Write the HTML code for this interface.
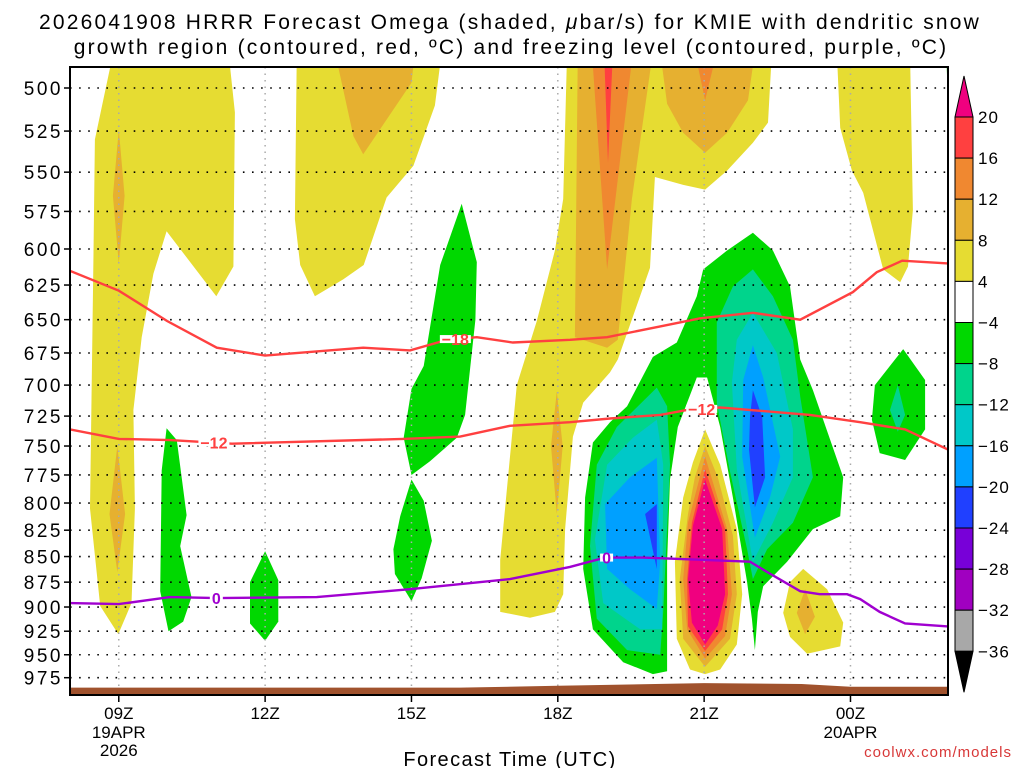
<!DOCTYPE html>
<html><head><meta charset="utf-8"><style>
body{margin:0;background:#fff;}
svg{display:block;font-family:"Liberation Sans",sans-serif;}
</style></head><body>
<svg id="chart" width="1024" height="768" viewBox="0 0 1024 768" xmlns="http://www.w3.org/2000/svg">
<text x="510" y="29" text-anchor="middle" font-size="21" letter-spacing="2.2">2026041908 HRRR Forecast Omega (shaded, <tspan font-style="italic">μ</tspan>bar/s) for KMIE with dendritic snow</text>
<text x="511" y="54" text-anchor="middle" font-size="21" letter-spacing="2.2">growth region (contoured, red, ºC) and freezing level (contoured, purple, ºC)</text>
<defs><clipPath id="pc"><rect x="70" y="67" width="878" height="628"/></clipPath></defs>
<g id="plot" clip-path="url(#pc)"></g>
<g id="axes"></g>
<g id="cbar"></g>
<text x="510" y="766" text-anchor="middle" font-size="20" letter-spacing="1.4">Forecast Time (UTC)</text>
<text x="1012" y="757" text-anchor="end" font-size="15" fill="#d83838" letter-spacing="1">coolwx.com/models</text>
</svg>
<script>
// ---- axis data ----
const pressureTicks=[500,525,550,575,600,625,650,675,700,725,750,775,800,825,850,875,900,925,950,975];
const timeTickHours=[1,4,7,10,13,16];
const timeTickLabels=["09Z","12Z","15Z","18Z","21Z","00Z"];
const dateLabels=[["19APR","2026"],null,null,null,null,["20APR"]];
const cbarLevels=[20,16,12,8,4,-4,-8,-12,-16,-20,-24,-28,-32,-36];
const cbarColors=["#ff4040","#f08830","#e6b030","#e6dc32","#ffffff","#00d800","#00d48c","#00c8c8","#00a0ff","#2040ff","#7800d8","#a000c0","#a8a8a8"];
// ---- shaded omega regions [hour since 08Z, hPa] ----
const yelLeft=[[0.89,480],[3.25,480],[3.38,514],[3.35,612],[3.0,633],[1.98,588],[1.71,617],[1.47,663],[1.30,720],[1.33,805],[1.26,896],[0.99,928],[0.62,899],[0.41,805],[0.48,608],[0.51,530]];
const ambLeftUp=[[1.0,524],[1.12,565],[1.0,610],[0.88,565]];
const ambLeftLow=[[0.97,750],[1.13,810],[0.97,865],[0.81,810]];
const yelMid=[[4.65,480],[7.62,480],[7.48,510],[7.04,546],[6.49,566],[6.02,611],[5.6,621],[5.02,633],[4.72,611],[4.61,580]];
const ambMid=[[5.43,480],[7.07,480],[7.0,497],[6.01,539],[5.81,528],[5.57,497]];
const yelRight=[[10.19,480],[14.39,480],[14.31,520],[14.0,532],[13.47,549],[13.02,561],[12.57,558],[11.99,553],[11.89,613],[11.23,680],[11.07,690],[10.52,714],[10.31,742],[10.15,824],[10.11,887],[9.94,905],[9.43,911],[8.82,905],[8.82,853],[9.16,700],[9.57,651],[9.94,601],[10.11,567]];
const amb18=[[9.98,705],[10.1,750],[9.98,810],[9.86,750]];
const amb19=[[10.41,480],[11.95,480],[11.52,567],[11.23,665],[11.01,671],[10.35,663]];
const org19=[[10.7,480],[11.54,480],[11.01,614]];
const red19=[[10.95,480],[11.13,480],[11.03,544]];
const amb21=[[12.1,480],[12.24,509],[12.57,526],[13.02,538],[13.47,526],[13.9,507],[14.04,480]];
const org21=[[12.81,480],[13.26,480],[13.02,507]];
const yel00=[[15.72,480],[17.22,480],[17.28,574],[17.18,612],[17.02,623],[16.67,614],[16.26,563],[16.03,549],[15.79,523]];
const yelCore=[[13.02,736],[13.33,766],[13.67,824],[13.78,887],[13.67,939],[13.33,966],[13.02,971],[12.71,966],[12.44,933],[12.4,855],[12.57,795],[12.77,764]];
const ambCore=[[13.02,750],[13.28,777],[13.59,830],[13.67,887],[13.53,933],[13.02,963],[12.57,933],[12.5,872],[12.67,810],[12.81,777]];
const orgCore=[[13.02,759],[13.47,824],[13.57,887],[13.43,930],[13.02,954],[12.65,923],[12.57,872],[12.67,818]];
const redCore=[[13.02,770],[13.43,824],[13.49,887],[13.37,923],[13.02,946],[12.67,920],[12.65,872],[12.75,818]];
const pinkCore=[[13.02,779],[13.37,824],[13.43,887],[13.28,919],[13.02,939],[12.75,916],[12.67,872],[12.77,821]];
const yel23=[[15.03,862],[15.52,882],[15.85,916],[15.79,941],[15.11,949],[14.76,931],[14.62,906],[14.76,875]];
const amb23=[[15.07,882],[15.27,910],[15.07,928],[14.9,906]];
const grn10=[[1.98,735],[2.19,745],[2.39,811],[2.26,840],[2.49,890],[2.32,915],[2.02,925],[1.85,884],[1.88,771]];
const grn12=[[4.0,845],[4.27,873],[4.27,915],[4.0,935],[3.69,917],[3.69,875]];
const grn15Up=[[8.03,570],[8.34,609],[8.31,650],[8.1,724],[7.93,743],[7.38,763],[7.0,775],[6.84,743],[7.0,703],[7.25,685],[7.59,611]];
const grn15Low=[[7.0,779],[7.25,798],[7.42,835],[7.21,871],[7.0,894],[6.66,867],[6.63,843],[6.77,812]];
const grnBig=[[14.0,589],[14.41,601],[14.76,626],[14.97,680],[15.23,704],[15.85,777],[15.79,812],[15.23,824],[14.7,855],[14.21,879],[14.1,905],[14.04,945],[13.98,912],[13.88,875],[13.59,795],[13.33,734],[13.06,694],[12.85,694],[12.46,734],[12.3,779],[12.24,855],[12.24,968],[11.95,971],[11.34,958],[10.72,923],[10.52,862],[10.56,795],[10.72,747],[11.07,730],[11.42,717],[11.95,678],[12.44,667],[12.85,633],[12.98,614],[13.47,601]];
const tealR=[[14.0,614],[14.41,633],[14.82,665],[14.97,709],[15.23,777],[14.82,818],[14.29,843],[14.0,872],[13.88,843],[13.53,772],[13.26,714],[13.26,652],[13.59,626]];
const cyanR=[[14.0,645],[14.49,675],[14.82,736],[14.82,777],[14.41,818],[14.0,855],[13.67,770],[13.57,698],[13.67,665]];
const blueR=[[14.0,669],[14.21,694],[14.56,759],[14.35,795],[14.04,832],[13.78,759],[13.8,696]];
const dblueR=[[14.0,704],[14.19,726],[14.25,777],[14.04,804],[13.92,753],[13.94,726]];
const tealL=[[12.03,702],[12.24,717],[12.3,766],[12.16,905],[12.1,950],[11.42,945],[10.8,912],[10.66,840],[10.8,766],[11.21,734]];
const cyanL=[[12.03,728],[12.16,766],[12.14,923],[11.69,923],[10.93,896],[10.76,834],[11.01,766],[11.54,743]];
const blueL=[[12.03,760],[12.1,855],[12.03,902],[11.48,882],[11.01,862],[10.97,801],[11.48,777]];
const dblueL=[[12.03,801],[12.03,862],[11.79,810]];
const grn01=[[17.08,672],[17.53,696],[17.53,736],[17.12,762],[16.6,756],[16.44,728],[16.5,700]];
const teal01=[[16.97,700],[17.12,724],[16.97,738],[16.81,720]];
const grnEdge=[[17.96,480],[18.02,480],[18.0,507]];
// ---- contour lines ----
const isoM18=[[0,615],[1.0,629],[1.99,651],[3.01,671],[4.0,677],[6.01,671],[6.97,673],[7.73,665],[8.34,663],[9.08,667],[10.25,665],[11.01,663],[12.1,655],[12.92,649],[14.0,645],[14.97,650],[16.05,630],[16.54,616],[17.06,608],[18.04,610]];
const isoM12=[[0,736],[1.0,744],[2.05,745],[3.32,748],[6.83,744],[8.0,742],[9.02,733],[10.25,730],[11.07,727],[12.1,724],[12.65,720],[13.33,718],[15.17,724],[16.2,730],[17.12,736],[18.0,753]];
const iso0=[[0,896],[1.0,897],[2.05,890],[3.01,891],[5.06,890],[6.97,882],[9.02,872],[10.25,860],[10.97,851],[11.75,851],[13.94,855],[14.29,865],[14.97,884],[15.37,887],[15.93,887],[16.2,892],[16.6,905],[17.12,917],[18.0,920]];
const labelsM18=[7.9];
const labelsM12=[2.95,12.95];
const labels0=[3.0,11.0];
const terrainHours=[0,8,10,12,13,15,16,18];
const terrainP=[986,986,984,982,981,982,985,985];

const NS="http://www.w3.org/2000/svg";
function X(h){return 70+48.78*h;}
function Y(p){return 88+883*Math.log(p/500);}
function mk(tag,attrs,parent){const e=document.createElementNS(NS,tag);for(const k in attrs)e.setAttribute(k,attrs[k]);parent.appendChild(e);return e;}
const plot=document.getElementById('plot'),axes=document.getElementById('axes'),cbar=document.getElementById('cbar');
function poly(arr,color,name){const e=mk('polygon',{points:arr.map(d=>X(d[0]).toFixed(1)+','+Y(d[1]).toFixed(1)).join(' '),fill:color},plot);

}
const Yl="#e6dc32",Am="#e6b030",Or="#f08830",Rd="#ff4040",Pk="#f0007f",Gr="#00d800",Tl="#00d48c",Cy="#00c8c8",Bl="#00a0ff",DB="#2040ff";
poly(yelLeft,Yl,'shade-4-left');poly(ambLeftUp,Am,'shade-8-left-upper');poly(ambLeftLow,Am,'shade-8-left-lower');
poly(yelMid,Yl,'shade-4-mid');poly(ambMid,Am,'shade-8-mid');
poly(yelRight,Yl,'shade-4-right');poly(amb18,Am,'shade-8-18z');poly(amb19,Am,'shade-8-19z');poly(org19,Or,'shade-12-19z');poly(red19,Rd,'shade-16-19z');
poly(amb21,Am,'shade-8-21z-top');poly(org21,Or,'shade-12-21z-top');poly(yel00,Yl,'shade-4-00z');
poly(grnBig,Gr,'shade-neg4-main');poly(tealR,Tl,'shade-neg8-right');poly(cyanR,Cy,'shade-neg12-right');poly(blueR,Bl,'shade-neg16-right');poly(dblueR,DB,'shade-neg20-right');
poly(tealL,Tl,'shade-neg8-left');poly(cyanL,Cy,'shade-neg12-left');poly(blueL,Bl,'shade-neg16-left');poly(dblueL,DB,'shade-neg20-left');
poly(yelCore,Yl,'shade-4-core');poly(ambCore,Am,'shade-8-core');poly(orgCore,Or,'shade-12-core');poly(redCore,Rd,'shade-16-core');poly(pinkCore,Pk,'shade-20-core');
poly(yel23,Yl,'shade-4-23z');poly(amb23,Am,'shade-8-23z');
poly(grn10,Gr,'shade-neg4-10z');poly(grn12,Gr,'shade-neg4-12z');poly(grn15Up,Gr,'shade-neg4-15z-upper');poly(grn15Low,Gr,'shade-neg4-15z-lower');
poly(grn01,Gr,'shade-neg4-01z');poly(teal01,Tl,'shade-neg8-01z');poly(grnEdge,Gr,'shade-neg4-edge');
// grid
pressureTicks.forEach(p=>{const l=mk('line',{x1:70,x2:948,y1:Y(p),y2:Y(p),stroke:'#000','stroke-width':1.6,'stroke-dasharray':'1.6,7.5'},plot);

});
timeTickHours.forEach(h=>{const l=mk('line',{x1:X(h),x2:X(h),y1:67,y2:695,stroke:'#aaa','stroke-width':1.5,'stroke-dasharray':'1.5,5'},plot);

});
// terrain
let tp='M'+X(terrainHours[0])+',700 ';terrainHours.forEach((h,i)=>{tp+='L'+X(h)+','+Y(terrainP[i]).toFixed(1)+' ';});tp+='L'+X(terrainHours[terrainHours.length-1])+',700 Z';
const ter=mk('path',{d:tp,fill:'#a0522d'},plot);


// contours
function line(arr,color,name){const e=mk('polyline',{points:arr.map(d=>X(d[0]).toFixed(1)+','+Y(d[1]).toFixed(1)).join(' '),fill:'none',stroke:color,'stroke-width':2.4},plot);

return arr;}
function interp(arr,h){for(let i=0;i<arr.length-1;i++){if(h>=arr[i][0]&&h<=arr[i+1][0]){const t=(h-arr[i][0])/(arr[i+1][0]-arr[i][0]);return arr[i][1]+t*(arr[i+1][1]-arr[i][1]);}}return arr[arr.length-1][1];}
function lab(arr,hs,txt,color,name){hs.forEach(h=>{const x=X(h),y=Y(interp(arr,h));
const w=txt.length*9+4;
mk('rect',{x:x-w/2,y:y-4,width:w,height:8,fill:'#fff'},plot);
const t=mk('text',{x:x,y:y+6,'text-anchor':'middle','font-size':16,'font-weight':'bold',fill:color},plot);t.textContent=txt;

});}
line(isoM18,'#ff4040','isotherm-minus18');line(isoM12,'#ff4040','isotherm-minus12');line(iso0,'#a000d0','freezing-level');
lab(isoM18,labelsM18,'−18','#ff4040','label-minus18');lab(isoM12,labelsM12,'−12','#ff4040','label-minus12');lab(iso0,labels0,'0','#a000d0','label-0');
// frame
const fr=mk('rect',{x:70,y:67,width:878,height:628,fill:'none',stroke:'#000','stroke-width':2},axes);


pressureTicks.forEach(p=>{mk('line',{x1:64,x2:70,y1:Y(p),y2:Y(p),stroke:'#000','stroke-width':1.5},axes);
const t=mk('text',{x:63,y:Y(p)+7,'text-anchor':'end','font-size':19,'letter-spacing':'2.5'},axes);t.textContent=p;

});
timeTickHours.forEach((h,i)=>{mk('line',{x1:X(h),x2:X(h),y1:695,y2:702,stroke:'#000','stroke-width':1.5},axes);
const t=mk('text',{x:X(h),y:719,'text-anchor':'middle','font-size':17},axes);t.textContent=timeTickLabels[i];


if(dateLabels[i])dateLabels[i].forEach((s,j)=>{const d=mk('text',{x:X(h),y:738+j*18,'text-anchor':'middle','font-size':17},axes);d.textContent=s;

});});
// colorbar
const cx=955,cw=18,ctop=117,cstep=41.1;
const tri1=mk('polygon',{points:`${cx},${ctop} ${cx+cw},${ctop} ${cx+cw/2},${ctop-41}`,fill:'#f0007f',stroke:'#000','stroke-width':1},cbar);


cbarColors.forEach((c,i)=>{const r=mk('rect',{x:cx,y:ctop+i*cstep,width:cw,height:cstep,fill:c,stroke:'#000','stroke-width':1},cbar);

});
const yb=ctop+cbarColors.length*cstep;
const tri2=mk('polygon',{points:`${cx},${yb} ${cx+cw},${yb} ${cx+cw/2},${yb+41}`,fill:'#000',stroke:'#000','stroke-width':1},cbar);


cbarLevels.forEach((v,i)=>{const t=mk('text',{x:978,y:ctop+i*cstep+6,'font-size':17,'letter-spacing':'1'},cbar);t.textContent=v<0?'−'+Math.abs(v):String(v);

});
</script>
</body></html>
